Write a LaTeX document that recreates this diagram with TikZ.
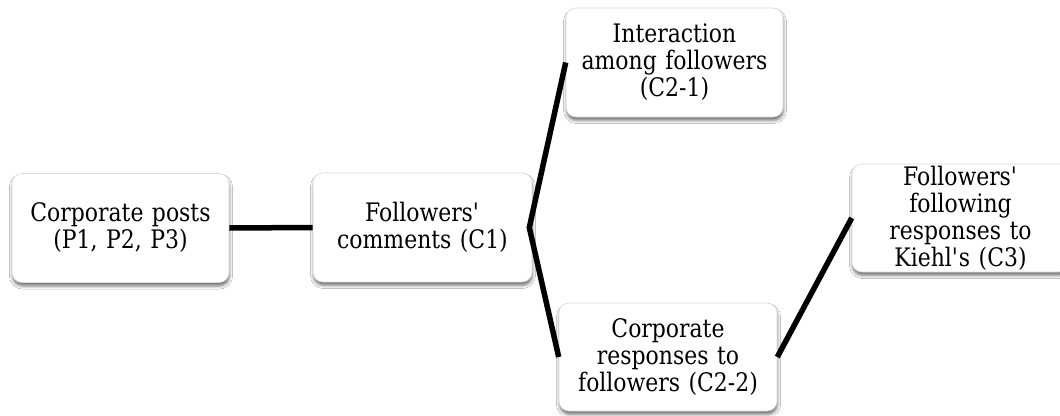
\documentclass[tikz,border=0pt]{standalone}
\usepackage{fontspec}
\setmainfont[FakeStretch=0.86]{DejaVu Serif}
\usetikzlibrary{shadows.blur}
\newcommand{\apos}{\XeTeXglyph\XeTeXcharglyph"0027\relax}
\begin{document}
\begin{tikzpicture}[x=1pt,y=-1pt,
  box/.style={draw=black!15, line width=0.6pt, fill=white, rounded corners=10pt,
    minimum width=217pt, minimum height=109pt, text width=210pt, align=center,
    inner sep=0pt, font=\fontsize{25.5}{27}\selectfont,
    blur shadow={shadow xshift=0.5pt, shadow yshift=-3.5pt, shadow blur radius=3pt, shadow opacity=55}},
  link/.style={line width=5.5pt, black}]
\useasboundingbox[fill=white] (0,0) rectangle (1060,415);
\node[box] (b1) at (120.5,228) {Corporate posts\\(P1, P2, P3)};
\node[box, minimum width=219pt] (b2) at (422.5,227.5) {Followers\apos\\comments (C1)};
\node[box] (b3) at (674.5,62.5) {Interaction\\among followers\\(C2-1)};
\node[box, minimum width=218pt, minimum height=108pt] (b4) at (668,357) {Corporate\\responses to\\followers (C2-2)};
\node[box, minimum height=108pt] (b5) at (960.5,218) {Followers\apos\\following\\responses to\\Kiehl\apos s (C3)};
\draw[link] (b1.east) -- (b2.west);
\draw[link, line join=miter] (b3.west) -- ([xshift=-3pt]b2.east) -- (b4.west);
\draw[link] (b4.east) -- (b5.west);
\end{tikzpicture}
\end{document}
